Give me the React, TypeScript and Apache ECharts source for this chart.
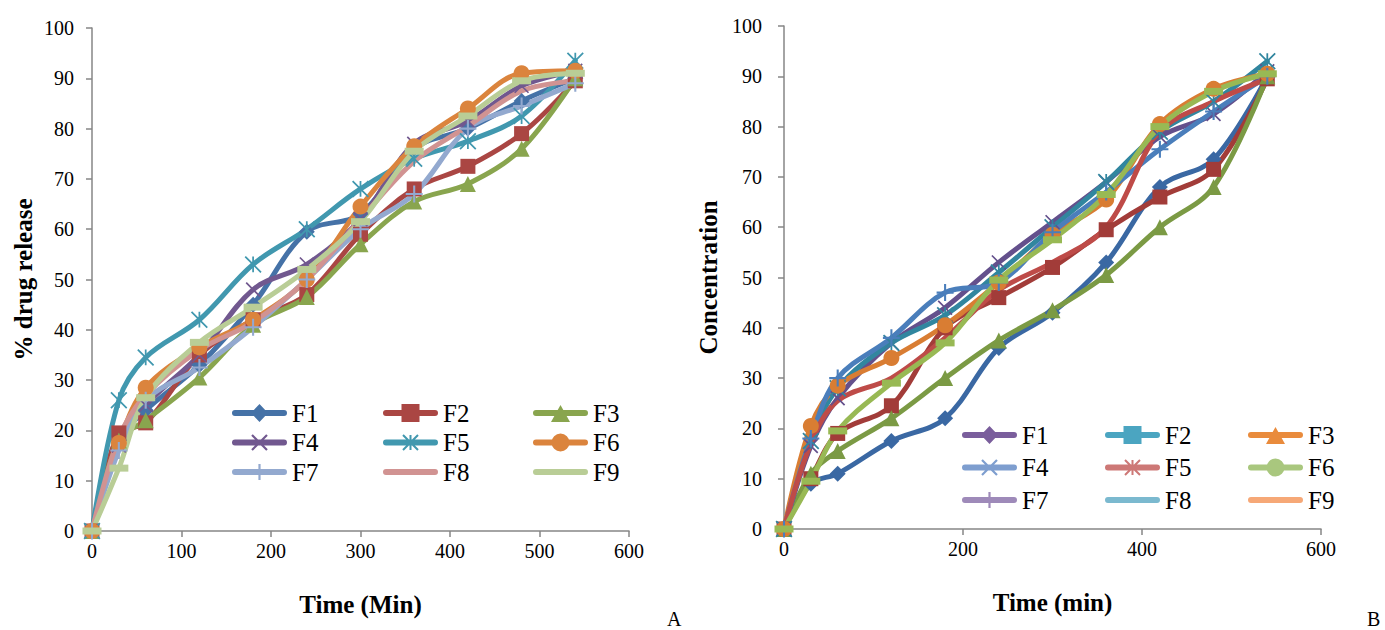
import React, { useEffect, useRef } from "react";
import * as echarts from "echarts";

const FONT = "Liberation Serif";

const TIMES = [0, 30, 60, 120, 180, 240, 300, 360, 420, 480, 540];
const NAMES = ["F1", "F2", "F3", "F4", "F5", "F6", "F7", "F8", "F9"];

// Chart A: % drug release
const A_F1 = [0, 18, 24, 33, 45, 59.5, 63, 76, 80, 85.5, 90];
const A_F2 = [0, 19.5, 21.5, 35, 42, 47, 59, 68, 72.5, 79, 89.5];
const A_F3 = [0, 18, 22, 30.5, 41, 46.5, 57, 65.5, 69, 76, 90];
const A_F4 = [0, 17, 25, 35, 48, 53, 62, 77, 81.5, 88.5, 91.5];
const A_F5 = [0, 26, 34.5, 42, 53, 60, 68, 74, 77.5, 82.5, 93.5];
const A_F6 = [0, 17.5, 28.5, 36.5, 42, 50, 64.5, 76.5, 84, 91, 91.5];
const A_F7 = [0, 16, 26, 32.5, 40.5, 50, 60, 67, 80, 84.5, 89];
const A_F8 = [0, 18.5, 27, 36, 41.5, 50, 62, 73.5, 80.5, 87.5, 89.5];
const A_F9 = [0, 12.5, 26.5, 37.5, 44.5, 52, 61.5, 75.5, 82.5, 89.5, 91];

// Chart B: Concentration
const B_F1 = [0, 9, 11, 17.5, 22, 36, 43, 53, 68, 73.5, 90];
const B_F2 = [0, 10, 19, 24.5, 40, 46, 52, 59.5, 66, 71.5, 89.5];
const B_F3 = [0, 11, 15.5, 22, 30, 37.5, 43.5, 50.5, 60, 68, 90];
const B_F4 = [0, 16.5, 26, 37, 44, 53, 61, 69, 78, 82.5, 91];
const B_F5 = [0, 17.5, 28, 37, 42.5, 51, 60, 69, 79, 85, 93];
const B_F6 = [0, 20.5, 28.5, 34, 40.5, 49, 58.5, 65.5, 80.5, 87.5, 90.5];
const B_F7 = [0, 18, 30, 38, 47, 49, 59, 67, 75.5, 83, 90];
const B_F8 = [0, 17, 25.5, 30, 38, 47.5, 53, 60, 79, 85, 89.5];
const B_F9 = [0, 9.5, 19.5, 29, 37, 49.5, 57.5, 66.5, 80, 87, 90.5];

const A_VALUES = [A_F1, A_F2, A_F3, A_F4, A_F5, A_F6, A_F7, A_F8, A_F9];
const B_VALUES = [B_F1, B_F2, B_F3, B_F4, B_F5, B_F6, B_F7, B_F8, B_F9];

const A_COLORS = ["#4572A7", "#AA4643", "#89A54E", "#71588F", "#4198AF", "#DB843D", "#93A9CF", "#D19392", "#B9CD96"];
const B_LINE_COLORS = ["#3A68A3", "#A23C39", "#7B9A44", "#64508C", "#31869F", "#D97D33", "#4A7EBB", "#BE4B48", "#98B954"];
const B_LEGEND_COLORS = ["#7A5E9C", "#4BA5C1", "#E98B3C", "#7E9ECF", "#CD7876", "#A9C77E", "#9E8AB9", "#7BB9CF", "#F6A877"];

const LINE_MARKERS = ["diamond", "square", "triangle", "x", "asterisk", "circle", "plus", "none", "dash"];
const LEGEND_MARKERS = ["diamond", "square", "triangle", "x", "asterisk", "circle", "plus", "none", "none"];

const X_TICKS_A = 100;
const X_TICKS_B = 200;

function seg(x1: number, y1: number, x2: number, y2: number, hw: number): string {
  const dx = x2 - x1, dy = y2 - y1;
  const len = Math.hypot(dx, dy);
  const nx = (-dy / len) * hw, ny = (dx / len) * hw;
  let pts = [[x1 + nx, y1 + ny], [x2 + nx, y2 + ny], [x2 - nx, y2 - ny], [x1 - nx, y1 - ny]];
  let a = 0;
  for (let i = 0; i < 4; i++) {
    const p = pts[i], q = pts[(i + 1) % 4];
    a += p[0] * q[1] - q[0] * p[1];
  }
  if (a < 0) pts = pts.reverse();
  return "M" + pts.map((p) => p[0].toFixed(2) + "," + p[1].toFixed(2)).join(" L") + " Z";
}

function strokeMarker(kind: string, cx: number, cy: number, s: number, hw: number): string {
  const h = s / 2;
  const xm = seg(cx - h, cy - h, cx + h, cy + h, hw) + " " + seg(cx + h, cy - h, cx - h, cy + h, hw);
  const vert = seg(cx, cy - h, cx, cy + h, hw);
  const hor = seg(cx - h, cy, cx + h, cy, hw);
  if (kind === "x") return xm;
  if (kind === "asterisk") return xm + " " + vert;
  if (kind === "plus") return vert + " " + hor;
  return "";
}

function chartSymbol(kind: string): any {
  switch (kind) {
    case "diamond": return { symbol: "diamond", symbolSize: 16 };
    case "square": return { symbol: "rect", symbolSize: 15 };
    case "triangle": return { symbol: "triangle", symbolSize: 16 };
    case "circle": return { symbol: "circle", symbolSize: 16 };
    case "dash": return { symbol: "rect", symbolSize: [19, 7] };
    case "x": return { symbol: "path://" + strokeMarker("x", 10, 10, 18, 1.1), symbolSize: 15 };
    case "asterisk": return { symbol: "path://" + strokeMarker("asterisk", 10, 10, 18, 1.0), symbolSize: 17 };
    case "plus": return { symbol: "path://" + strokeMarker("plus", 10, 10, 18, 1.1), symbolSize: 17 };
    default: return { symbol: "none", symbolSize: 0 };
  }
}

const BAR = "M3,6 L52,6 A3,3 0 0 1 52,12 L3,12 A3,3 0 0 1 3,6 Z";
const SLIVERS = "M27.5,0 L27.52,0 L27.5,0.02 Z M27.5,18 L27.5,17.98 L27.52,18 Z";

function legendIcon(kind: string): string {
  let m = "";
  switch (kind) {
    case "diamond": m = "M27.5,0 L36,9 L27.5,18 L19,9 Z"; break;
    case "square": m = "M18.5,0 L36.5,0 L36.5,18 L18.5,18 Z"; break;
    case "triangle": m = "M27.5,1 L37,18 L18,18 Z"; break;
    case "circle": m = "M18.5,9 A9,9 0 1 1 36.5,9 A9,9 0 1 1 18.5,9 Z"; break;
    case "x": m = strokeMarker("x", 27.5, 9, 15, 1.1); break;
    case "asterisk": m = strokeMarker("asterisk", 27.5, 9, 15, 1.0); break;
    case "plus": m = strokeMarker("plus", 27.5, 9, 16, 1.1); break;
    default: m = "";
  }
  return "path://" + BAR + " " + m + " " + SLIVERS;
}

function zip(vals: number[]) {
  return TIMES.map((t, i) => [t, vals[i]]);
}

const axisLineStyle = { color: "#868686", width: 1.5 };
const titleStyle = { fontFamily: FONT, fontSize: 25, fontWeight: "bold", color: "#000" };

function xAxisCfg(gridIndex: number, interval: number, name: string) {
  return {
    type: "value",
    gridIndex,
    min: 0,
    max: 600,
    interval,
    name,
    nameLocation: "middle",
    nameGap: 61,
    nameTextStyle: titleStyle,
    axisLine: { show: true, onZero: false, lineStyle: axisLineStyle },
    axisTick: { show: true, length: 6, lineStyle: axisLineStyle },
    axisLabel: { fontFamily: FONT, fontSize: 20, color: "#000", margin: 10 },
    splitLine: { show: false },
  };
}

function yAxisCfg(gridIndex: number, name: string, nameGap: number, margin: number) {
  return {
    type: "value",
    gridIndex,
    min: 0,
    max: 100,
    interval: 10,
    name,
    nameLocation: "middle",
    nameGap,
    nameTextStyle: titleStyle,
    axisLine: { show: true, lineStyle: axisLineStyle },
    axisTick: { show: true, length: 6, lineStyle: axisLineStyle },
    axisLabel: { fontFamily: FONT, fontSize: 20, color: "#000", margin },
    splitLine: { show: false },
  };
}

function legendColumn(names: string[], kinds: string[], left: number, top: number, gap: number, strip: boolean) {
  return {
    orient: "vertical",
    left,
    top,
    padding: 0,
    itemWidth: 55,
    itemHeight: 18,
    itemGap: gap,
    selectedMode: false,
    itemStyle: { borderWidth: 0 },
    textStyle: { fontFamily: FONT, fontSize: 25, lineHeight: 25, color: "#000" },
    formatter: strip ? (n: string) => n.replace(/^B /, "") : undefined,
    data: names.map((n, i) => ({ name: n, icon: legendIcon(kinds[i]) })),
  };
}

export default function App() {
  const ref = useRef<HTMLDivElement>(null);

  useEffect(() => {
    if (!ref.current) return;
    const chart = echarts.init(ref.current, undefined, { renderer: "svg" });

    const series: any[] = [];
    NAMES.forEach((n, i) => {
      series.push({
        type: "line",
        name: n,
        xAxisIndex: 0,
        yAxisIndex: 0,
        data: zip(A_VALUES[i]),
        smooth: 0.35,
        color: A_COLORS[i],
        lineStyle: { width: 5, color: A_COLORS[i], cap: "round", join: "round" },
        itemStyle: { color: A_COLORS[i], borderWidth: 0 },
        ...chartSymbol(LINE_MARKERS[i]),
      });
    });
    NAMES.forEach((n, i) => {
      series.push({
        type: "line",
        name: "B line " + n,
        xAxisIndex: 1,
        yAxisIndex: 1,
        data: zip(B_VALUES[i]),
        smooth: 0.35,
        color: B_LINE_COLORS[i],
        lineStyle: { width: 5, color: B_LINE_COLORS[i], cap: "round", join: "round" },
        itemStyle: { color: B_LINE_COLORS[i], borderWidth: 0 },
        ...chartSymbol(LINE_MARKERS[i]),
      });
    });
    NAMES.forEach((n, i) => {
      series.push({
        type: "line",
        name: "B " + n,
        xAxisIndex: 1,
        yAxisIndex: 1,
        data: [],
        color: B_LEGEND_COLORS[i],
        lineStyle: { width: 5, color: B_LEGEND_COLORS[i] },
        itemStyle: { color: B_LEGEND_COLORS[i], borderWidth: 0 },
        symbol: "circle",
      });
    });

    const aCols = [[0, 3, 6], [1, 4, 7], [2, 5, 8]];
    const aLefts = [232, 383, 533];
    const bLefts = [962, 1105, 1248];
    const legends: any[] = [];
    aCols.forEach((col, c) => {
      legends.push(legendColumn(col.map((i) => NAMES[i]), col.map((i) => LEGEND_MARKERS[i]), aLefts[c], 400.5, 4.5, false));
    });
    aCols.forEach((col, c) => {
      legends.push(legendColumn(col.map((i) => "B " + NAMES[i]), col.map((i) => LEGEND_MARKERS[i]), bLefts[c], 422.5, 7.5, true));
    });

    chart.setOption({
      animation: false,
      backgroundColor: "#ffffff",
      grid: [
        { left: 92, top: 28, width: 537, height: 503, containLabel: false },
        { left: 784, top: 26, width: 537, height: 503, containLabel: false },
      ],
      xAxis: [xAxisCfg(0, X_TICKS_A, "Time (Min)"), xAxisCfg(1, X_TICKS_B, "Time (min)")],
      yAxis: [yAxisCfg(0, "% drug release", 56, 18), yAxisCfg(1, "Concentration", 63, 22)],
      legend: legends,
      series,
      graphic: [
        { type: "text", left: 667, top: 609, style: { text: "A", font: `20px "${FONT}"`, fill: "#000" } },
        { type: "text", left: 1367, top: 609, style: { text: "B", font: `20px "${FONT}"`, fill: "#000" } },
      ],
    });

    return () => chart.dispose();
  }, []);

  return (
    <div
      ref={ref}
      style={{ position: "fixed", left: 0, top: 0, width: 1385, height: 630, background: "#fff" }}
    />
  );
}
